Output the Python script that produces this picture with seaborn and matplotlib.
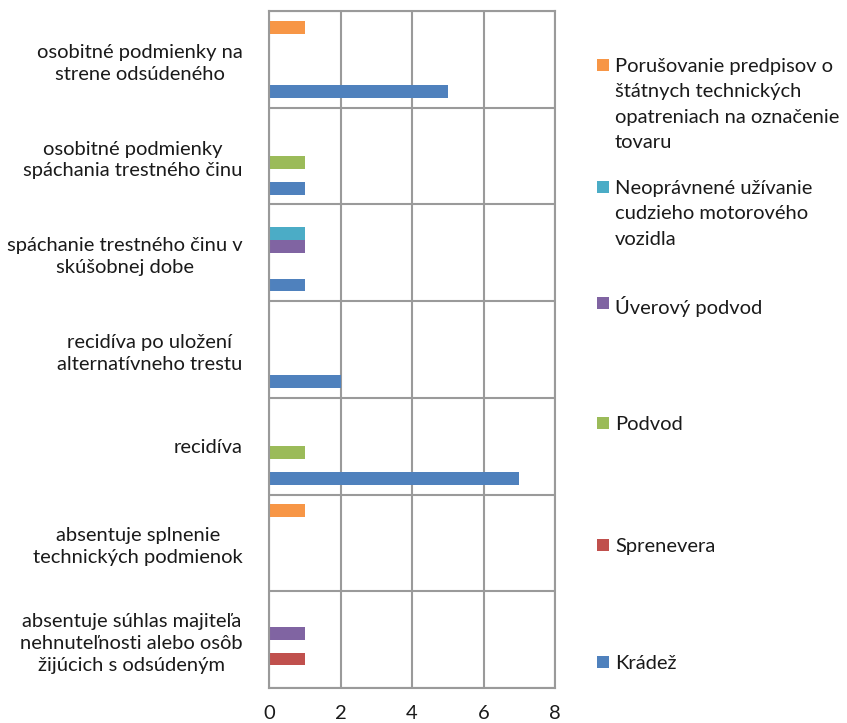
import matplotlib
matplotlib.use("Agg")
import matplotlib.pyplot as plt
from matplotlib.patches import Rectangle
from matplotlib.ticker import MultipleLocator
import seaborn as sns
import pandas as pd

# Categories (top to bottom) and crime types
categories = [
    "osobitné podmienky na\nstrene odsúdeného",
    "osobitné podmienky\nspáchania trestného činu",
    "spáchanie trestného činu v\nskúšobnej dobe",
    "recidíva po uložení\nalternatívneho trestu",
    "recidíva",
    "absentuje splnenie\ntechnických podmienok",
    "absentuje súhlas majiteľa\nnehnuteľnosti alebo osôb\nžijúcich s odsúdeným",
]

series = [
    "Porušovanie predpisov o\nštátnych technických\nopatreniach na označenie\ntovaru",
    "Neoprávnené užívanie\ncudzieho motorového\nvozidla",
    "Úverový podvod",
    "Podvod",
    "Sprenevera",
    "Krádež",
]

porusovanie = [1, 0, 0, 0, 0, 1, 0]
neopravnene = [0, 0, 1, 0, 0, 0, 0]
uverovy = [0, 0, 1, 0, 0, 0, 1]
podvod = [0, 1, 0, 0, 1, 0, 0]
sprenevera = [0, 0, 0, 0, 0, 0, 1]
kradez = [5, 1, 1, 2, 7, 0, 0]

colors = ["#F79646", "#4BACC6", "#8064A2", "#9BBB59", "#C0504D", "#4F81BD"]

values = [porusovanie, neopravnene, uverovy, podvod, sprenevera, kradez]
rows = []
for s, vals in zip(series, values):
    for c, v in zip(categories, vals):
        rows.append({"kategória": c, "trestný čin": s, "počet": v})
df = pd.DataFrame(rows)

sns.set_theme(style="white")
plt.rcParams["font.family"] = ["Lato", "DejaVu Sans"]
text_color = "#1a1a1a"
grid_color = "#9a9a9a"
fs = 14.5

fig = plt.figure(figsize=(8.47, 7.23), dpi=100)
ax = fig.add_axes([269 / 847, 1 - 688 / 723, (555 - 269) / 847, (688 - 11) / 723])

sns.barplot(
    data=df, y="kategória", x="počet", hue="trestný čin",
    order=categories, hue_order=series, palette=colors, saturation=1,
    orient="y", width=0.8, linewidth=0, legend=False, ax=ax,
)

ax.set_xlim(0, 8)
ax.set_ylim(len(categories) - 0.5, -0.5)
ax.xaxis.set_major_locator(MultipleLocator(2))
ax.set_yticks(range(len(categories)))
ax.set_yticks([i - 0.5 for i in range(len(categories) + 1)], minor=True)
ax.set_yticklabels(categories, fontsize=fs, color=text_color,
                   multialignment="center", linespacing=1.35)
ax.tick_params(axis="y", which="major", length=0, pad=19)
ax.tick_params(axis="y", which="minor", length=8, width=1.5, color=grid_color)
ax.tick_params(axis="x", which="major", length=6, width=1.5, color=grid_color,
               labelsize=fs, labelcolor=text_color, pad=6)
ax.set_xlabel("")
ax.set_ylabel("")

ax.grid(True, axis="x", which="major", color=grid_color, linewidth=1.5)
ax.grid(True, axis="y", which="minor", color=grid_color, linewidth=1.5)
ax.grid(False, axis="y", which="major")
ax.set_axisbelow(True)
for sp in ax.spines.values():
    sp.set_color(grid_color)
    sp.set_linewidth(1.5)

# Legend: one entry per crime type, spread down the right side
W, H = 847, 723
entry_tops = [65, 187, 303, 423, 545, 662]
for label, col, y in zip(series, colors, entry_tops):
    fig.add_artist(Rectangle((597 / W, 1 - (y + 6) / H), 12 / W, 12 / H,
                             transform=fig.transFigure, facecolor=col,
                             edgecolor="none"))
    fig.text(615 / W, 1 - (y - 7) / H, label, fontsize=fs, color=text_color,
             ha="left", va="top", linespacing=1.6)

fig.savefig("out.png", dpi=100)
